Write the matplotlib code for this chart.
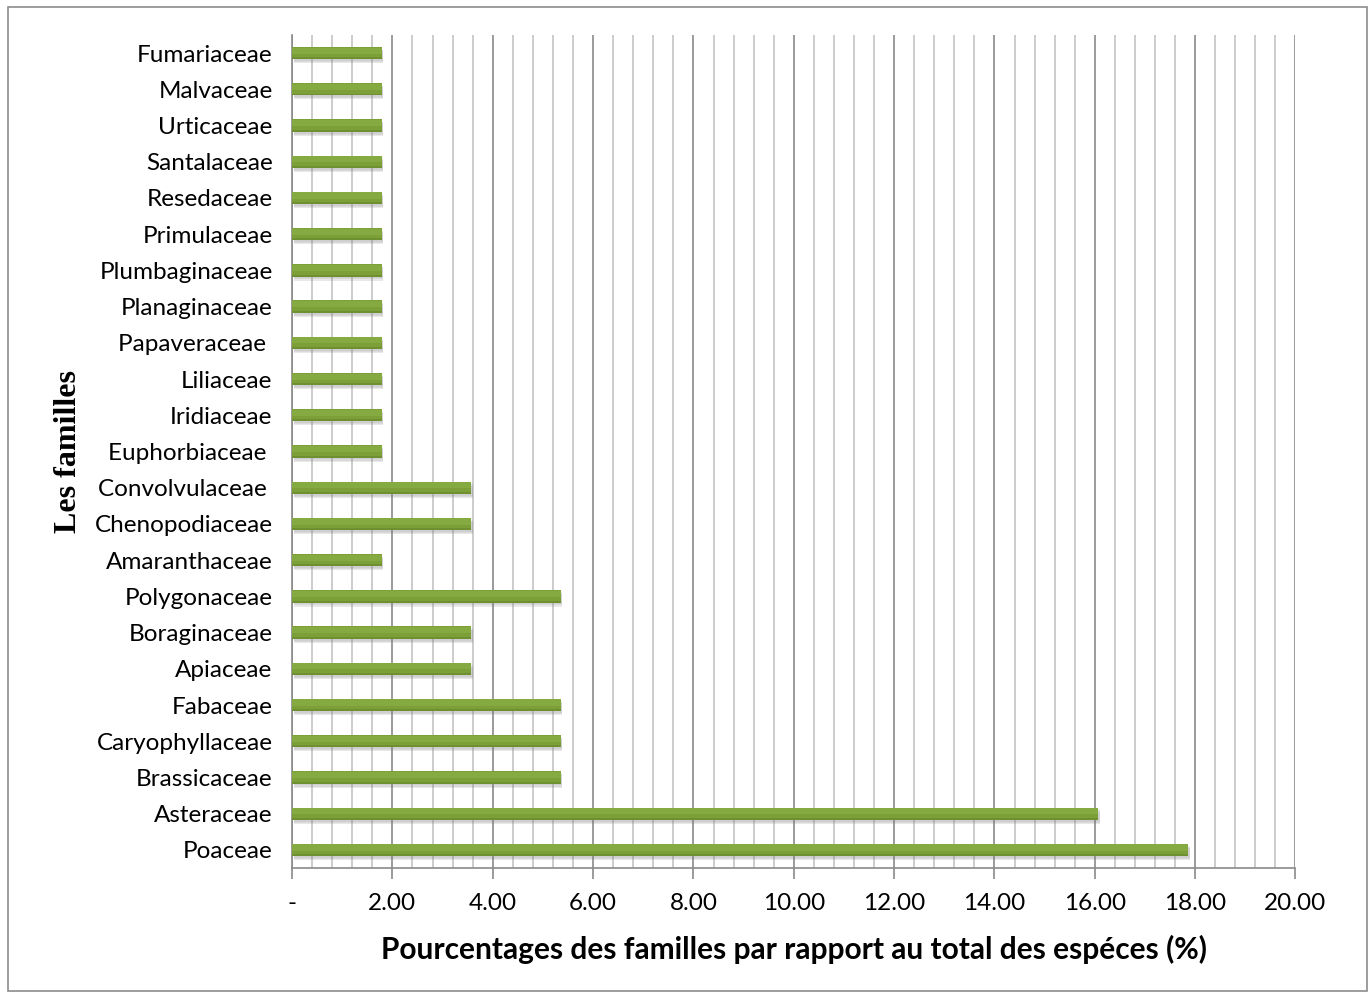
import matplotlib.pyplot as plt
from matplotlib.patches import Rectangle
from matplotlib.ticker import MultipleLocator

familles = ['Poaceae', 'Asteraceae', 'Brassicaceae', 'Caryophyllaceae', 'Fabaceae',
            'Apiaceae', 'Boraginaceae', 'Polygonaceae', 'Amaranthaceae', 'Chenopodiaceae',
            'Convolvulaceae ', 'Euphorbiaceae ', 'Iridiaceae', 'Liliaceae', 'Papaveraceae ',
            'Planaginaceae', 'Plumbaginaceae', 'Primulaceae', 'Resedaceae', 'Santalaceae',
            'Urticaceae', 'Malvaceae', 'Fumariaceae']
pourcentages = [17.86, 16.07, 5.36, 5.36, 5.36,
                3.57, 3.57, 5.36, 1.79, 3.57,
                3.57, 1.79, 1.79, 1.79, 1.79,
                1.79, 1.79, 1.79, 1.79, 1.79,
                1.79, 1.79, 1.79]
xticks = [0, 2, 4, 6, 8, 10, 12, 14, 16, 18, 20]
xlabels = ['-', '2.00', '4.00', '6.00', '8.00', '10.00', '12.00', '14.00', '16.00', '18.00', '20.00']

plt.rcParams['font.family'] = ['Lato', 'DejaVu Sans']

fig = plt.figure(figsize=(13.68, 9.92), dpi=100)
fig.patches.append(Rectangle((8 / 1368, 1 - 991 / 992), 1359 / 1368, 984 / 992,
                             transform=fig.transFigure, fill=False,
                             edgecolor='#8c8c8c', linewidth=1.2))
ax = fig.add_axes([0.2135, 0.125, 0.7335, 0.8397])

y = list(range(len(familles)))
h = 0.34
# soft shadow under each bar
for k, a in enumerate([0.10, 0.14, 0.18]):
    ax.barh([i - 0.05 - 0.03 * k for i in y], pourcentages, height=h, left=0.03,
            color='#808080', alpha=a, linewidth=0, zorder=2)
# bar body, darker at the bottom, lighter at the top
ax.barh(y, pourcentages, height=h, color='#6f9030', linewidth=0, zorder=3)
ax.barh([i + h * 0.08 for i in y], pourcentages, height=h * 0.84,
        color='#7c9f38', linewidth=0, zorder=4)
ax.barh([i + h * 0.2 for i in y], pourcentages, height=h * 0.5,
        color='#86aa42', linewidth=0, zorder=5)

ax.set_xlim(0, 20)
ax.set_ylim(-0.5, len(familles) - 0.5)
ax.set_yticks(y)
ax.set_yticklabels(familles, fontsize=17.5)
ax.set_xticks(xticks)
ax.set_xticklabels(xlabels, fontsize=17.5)
ax.xaxis.set_minor_locator(MultipleLocator(0.4))

ax.grid(axis='x', which='major', color='#8a8a8a', linewidth=1.2, zorder=0)
ax.grid(axis='x', which='minor', color='#c4c4c4', linewidth=1.2, zorder=0)
ax.set_axisbelow(True)

ax.tick_params(axis='y', length=0, pad=14)
ax.tick_params(axis='x', which='major', direction='out', length=8, color='#8a8a8a',
               width=1.2, pad=10)
ax.tick_params(axis='x', which='minor', length=0)
for s in ['top', 'right']:
    ax.spines[s].set_visible(False)
for s in ['left', 'bottom']:
    ax.spines[s].set_color('#8a8a8a')
    ax.spines[s].set_linewidth(1.2)

ax.set_xlabel('Pourcentages des familles par rapport au total des espéces (%)',
              fontsize=21.5, fontweight='bold', labelpad=15)
ax.set_ylabel('Les familles', fontsize=23, fontweight='bold',
              family=['Liberation Serif'])
ax.yaxis.set_label_coords(-0.208, 0.5)

fig.savefig('out.png', dpi=100)
